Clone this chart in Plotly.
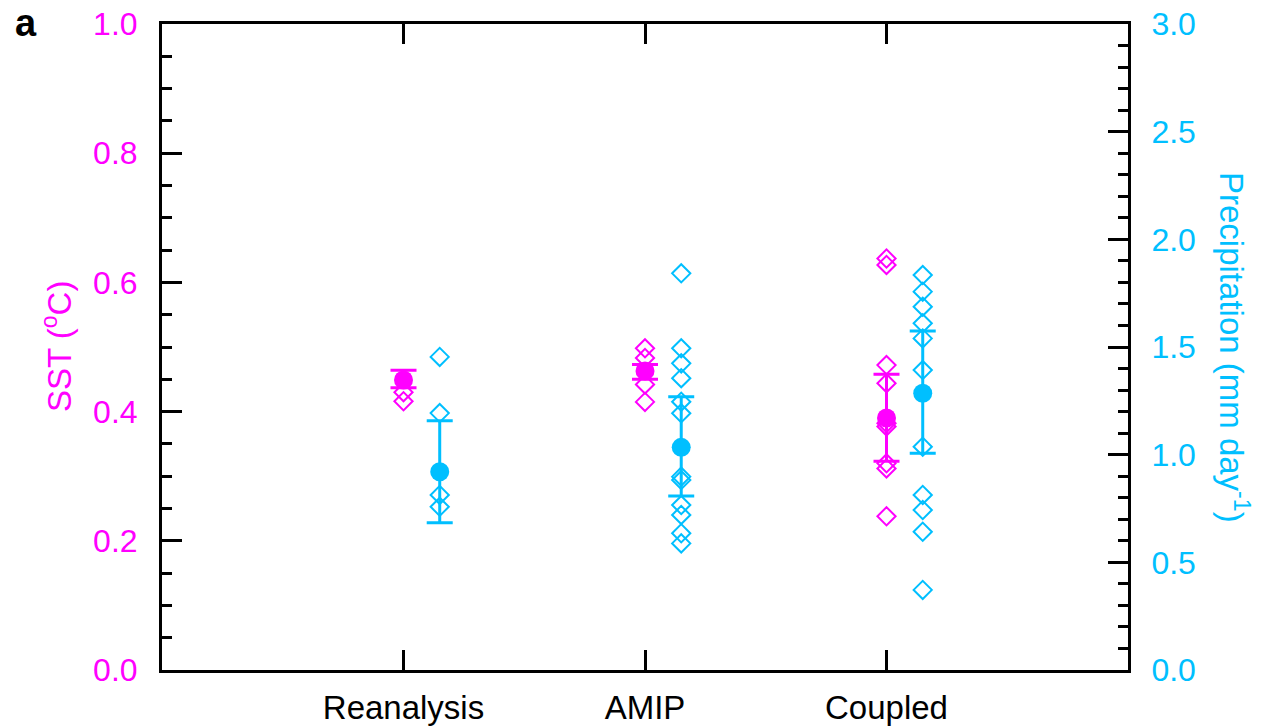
import plotly.graph_objects as go

# Groups along the x axis
categories = ["Reanalysis", "AMIP", "Coupled"]
cat_pos = [1, 2, 3]
precip_shift = 0.15

# SST (°C): individual members per group
sst_reanalysis = [0.430, 0.416]
sst_amip = [0.498, 0.483, 0.442, 0.415]
sst_coupled = [0.637, 0.627, 0.472, 0.444, 0.382, 0.377, 0.320, 0.312, 0.238]
# SST ensemble mean and spread bounds
sst_mean = [0.449, 0.463, 0.390]
sst_upper = [0.464, 0.473, 0.458]
sst_lower = [0.437, 0.450, 0.323]

# Precipitation (mm day-1): individual members per group
pr_reanalysis = [1.454, 1.193, 0.813, 0.758]
pr_amip = [1.842, 1.494, 1.424, 1.355, 1.246, 1.192, 0.898, 0.882, 0.766, 0.720, 0.635, 0.588]
pr_coupled = [1.834, 1.757, 1.687, 1.610, 1.540, 1.393, 1.037, 0.813, 0.743, 0.642, 0.372]
# Precipitation ensemble mean and spread bounds
pr_mean = [0.921, 1.034, 1.285]
pr_upper = [1.158, 1.269, 1.574]
pr_lower = [0.684, 0.808, 1.006]

MAGENTA = "#FF00FF"
CYAN = "#00BFFF"
FONT = "Liberation Sans, Arial, Helvetica, sans-serif"

fig = go.Figure()

sst_members = [sst_reanalysis, sst_amip, sst_coupled]
pr_members = [pr_reanalysis, pr_amip, pr_coupled]

xs, ys = [], []
for p, vals in zip(cat_pos, sst_members):
    xs += [p] * len(vals)
    ys += vals
fig.add_trace(go.Scatter(
    x=xs, y=ys, mode="markers", yaxis="y",
    marker=dict(symbol="diamond-open", size=14, color=MAGENTA, line=dict(width=2, color=MAGENTA)),
    showlegend=False, hoverinfo="skip"))

fig.add_trace(go.Scatter(
    x=cat_pos, y=sst_mean, mode="markers", yaxis="y",
    marker=dict(symbol="circle", size=19, color=MAGENTA),
    error_y=dict(type="data", symmetric=False,
                 array=[u - m for u, m in zip(sst_upper, sst_mean)],
                 arrayminus=[m - l for l, m in zip(sst_lower, sst_mean)],
                 color=MAGENTA, thickness=3, width=13),
    showlegend=False))

xs, ys = [], []
for p, vals in zip(cat_pos, pr_members):
    xs += [p + precip_shift] * len(vals)
    ys += vals
fig.add_trace(go.Scatter(
    x=xs, y=ys, mode="markers", yaxis="y2",
    marker=dict(symbol="diamond-open", size=14, color=CYAN, line=dict(width=2, color=CYAN)),
    showlegend=False, hoverinfo="skip"))

fig.add_trace(go.Scatter(
    x=[p + precip_shift for p in cat_pos], y=pr_mean, mode="markers", yaxis="y2",
    marker=dict(symbol="circle", size=19, color=CYAN),
    error_y=dict(type="data", symmetric=False,
                 array=[u - m for u, m in zip(pr_upper, pr_mean)],
                 arrayminus=[m - l for l, m in zip(pr_lower, pr_mean)],
                 color=CYAN, thickness=3, width=13),
    showlegend=False))

W, H = 1270, 728
L, R, T, B = 162, 142, 24, 58
pw, ph = W - L - R, H - T - B


def px_x(x):
    return (x - L) / pw


def px_y(y):
    return 1 - (y - T) / ph


fig.update_layout(
    width=W, height=H,
    margin=dict(l=L, r=R, t=T, b=B, autoexpand=False),
    paper_bgcolor="white", plot_bgcolor="white",
    font=dict(family=FONT, size=32, color="black"),
    xaxis=dict(
        range=[0, 4], tickvals=cat_pos, ticktext=categories,
        showgrid=False, zeroline=False, automargin=False,
        showline=True, linecolor="black", linewidth=3, mirror="ticks",
        ticks="inside", ticklen=20, tickwidth=2.5, tickcolor="black",
        tickfont=dict(size=33, color="black"), ticklabelstandoff=6,
    ),
    yaxis=dict(
        range=[0, 1], dtick=0.2, tick0=0, tickformat=".1f",
        showgrid=False, zeroline=False, automargin=False,
        showline=True, linecolor="black", linewidth=3,
        ticks="inside", ticklen=20, tickwidth=2.5, tickcolor="black",
        minor=dict(dtick=0.05, ticks="inside", ticklen=10, tickwidth=2.5, tickcolor="black", showgrid=False),
        tickfont=dict(size=32, color=MAGENTA), ticklabelstandoff=15,
    ),
    yaxis2=dict(
        range=[0, 3], dtick=0.5, tick0=0, tickformat=".1f",
        overlaying="y", side="right",
        showgrid=False, zeroline=False, automargin=False,
        showline=True, linecolor="black", linewidth=3,
        ticks="inside", ticklen=20, tickwidth=2.5, tickcolor="black",
        minor=dict(dtick=0.1, ticks="inside", ticklen=10, tickwidth=2.5, tickcolor="black", showgrid=False),
        tickfont=dict(size=32, color=CYAN), ticklabelstandoff=14,
    ),
    annotations=[
        dict(text="<b>a</b>", x=px_x(26), y=px_y(23), xref="paper", yref="paper",
             xanchor="center", yanchor="middle",
             showarrow=False, font=dict(size=38, color="black")),
        dict(text="SST (<sup>o</sup>C)", x=px_x(57), y=px_y(347), xref="paper", yref="paper",
             xanchor="center", yanchor="middle", textangle=-90, showarrow=False,
             font=dict(size=33, color=MAGENTA)),
        dict(text="Precipitation (mm day<sup>-1</sup>)", x=px_x(1234), y=px_y(347),
             xref="paper", yref="paper", xanchor="center", yanchor="middle", textangle=90,
             showarrow=False, font=dict(size=33, color=CYAN)),
    ],
)

fig.write_html("out.html")
